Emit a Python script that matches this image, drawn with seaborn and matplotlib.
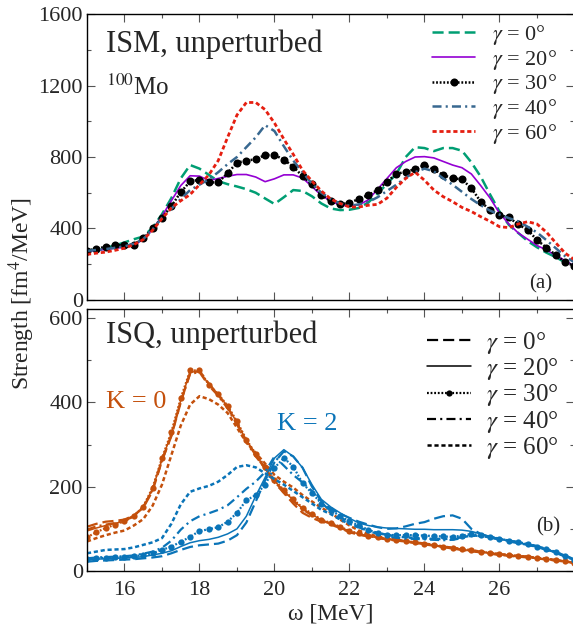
import matplotlib
matplotlib.use("Agg")
import matplotlib.pyplot as plt
from matplotlib.lines import Line2D
from matplotlib.ticker import MultipleLocator
import seaborn as sns

# excitation energy grid (MeV)
energy = [15.0, 15.25, 15.5, 15.75, 16.0, 16.25, 16.5, 16.75, 17.0, 17.25, 17.5, 17.75,
          18.0, 18.25, 18.5, 18.75, 19.0, 19.25, 19.5, 19.75, 20.0, 20.25, 20.5, 20.75,
          21.0, 21.25, 21.5, 21.75, 22.0, 22.25, 22.5, 22.75, 23.0, 23.25, 23.5, 23.75,
          24.0, 24.25, 24.5, 24.75, 25.0, 25.25, 25.5, 25.75, 26.0, 26.25, 26.5, 26.75,
          27.0, 27.25, 27.5, 27.75, 28.0]

gammas = ["0", "20", "30", "40", "60"]
x_major = [16, 18, 20, 22, 24, 26]
x_minor = [15, 17, 19, 21, 23, 25, 27]

# ISM strength, panel (a)
ism_g0 = [275, 283, 292, 305, 322, 340, 355, 405, 480, 570, 680, 755,
          735, 700, 665, 648, 635, 620, 600, 568, 537, 575, 615, 610,
          580, 540, 512, 503, 505, 515, 545, 595, 650, 705, 800, 855,
          850, 833, 850, 850, 835, 770, 690, 590, 495, 420, 375, 330,
          295, 265, 240, 210, 185]
ism_g20 = [272, 278, 283, 290, 295, 305, 340, 395, 470, 555, 640, 695,
           693, 668, 680, 692, 702, 702, 688, 662, 678, 700, 700, 682,
           635, 585, 555, 530, 527, 532, 560, 620, 680, 740, 775, 800,
           802, 795, 775, 755, 740, 705, 640, 570, 486, 425, 375, 340,
           305, 280, 250, 220, 190]
ism_g30 = [275, 288, 297, 305, 308, 310, 345, 400, 460, 525, 603, 663,
           673, 658, 658, 710, 768, 780, 787, 811, 811, 786, 745, 693,
           647, 588, 552, 535, 544, 565, 587, 615, 662, 705, 718, 731,
           755, 731, 699, 681, 675, 625, 550, 503, 475, 462, 423, 392,
           336, 293, 252, 212, 190]
ism_g40 = [275, 280, 285, 292, 300, 315, 340, 395, 460, 510, 565, 615,
           645, 675, 715, 760, 800, 855, 910, 978, 945, 860, 780, 715,
           650, 600, 565, 540, 527, 535, 548, 575, 610, 645, 685, 715,
           735, 720, 680, 645, 605, 565, 530, 500, 478, 458, 440, 410,
           378, 335, 290, 245, 210]
ism_g60 = [255, 262, 268, 278, 290, 310, 338, 390, 455, 515, 555, 590,
           645, 700, 780, 910, 1035, 1105, 1105, 1065, 990, 900, 815, 725,
           665, 610, 565, 540, 520, 520, 530, 535, 570, 630, 680, 715,
           670, 615, 578, 550, 518, 495, 466, 440, 410, 405, 425, 438,
           425, 380, 320, 262, 225]

# ISQ strength, panel (b), K = 0
k0_g0 = [105, 112, 117, 119, 122, 132, 150, 190, 262, 320, 400, 470,
         475, 445, 418, 388, 350, 308, 275, 242, 210, 185, 160, 138,
         126, 117, 110, 102, 92, 86, 82, 78, 75, 72, 70, 66,
         63, 60, 57, 53, 50, 47, 44, 41, 38, 36, 34, 32,
         30, 27, 25, 22, 19]
k0_g20 = [95, 102, 108, 113, 118, 130, 152, 195, 265, 325, 405, 472,
          474, 443, 420, 390, 352, 310, 276, 245, 214, 190, 168, 148,
          134, 121, 113, 104, 94, 88, 83, 79, 76, 73, 71, 67,
          64, 61, 58, 54, 51, 48, 45, 42, 39, 37, 35, 33,
          31, 28, 26, 23, 20]
k0_g30 = [80, 92, 102, 110, 118, 130, 153, 198, 268, 330, 410, 476,
          476, 442, 420, 392, 355, 312, 278, 248, 216, 192, 170, 150,
          136, 122, 114, 105, 95, 89, 84, 80, 77, 74, 71, 68,
          65, 62, 58, 55, 52, 49, 46, 43, 40, 38, 36, 34,
          31, 29, 26, 23, 20]
k0_g40 = [98, 106, 110, 114, 120, 131, 152, 193, 262, 322, 402, 468,
          472, 440, 416, 386, 348, 306, 272, 244, 212, 188, 166, 146,
          132, 120, 112, 103, 93, 87, 83, 79, 76, 73, 70, 67,
          64, 61, 57, 54, 51, 48, 45, 42, 39, 37, 35, 33,
          30, 28, 25, 22, 19]
k0_g60 = [70, 78, 85, 91, 96, 108, 123, 155, 205, 275, 345, 395,
          415, 408, 395, 375, 340, 305, 280, 255, 228, 212, 198, 180,
          165, 150, 138, 122, 108, 96, 88, 82, 78, 74, 71, 68,
          65, 62, 58, 55, 52, 49, 46, 43, 40, 38, 36, 34,
          31, 29, 26, 23, 20]

# ISQ strength, panel (b), K = 2
k2_g0 = [22, 24, 25, 26, 27, 28, 30, 32, 35, 42, 50, 57,
         61, 63, 65, 72, 85, 115, 165, 215, 258, 284, 272, 245,
         200, 165, 148, 136, 126, 117, 110, 104, 100, 101, 106, 112,
         116, 124, 130, 132, 124, 100, 88, 80, 74, 70, 66, 62,
         57, 50, 43, 34, 26]
k2_g20 = [26, 28, 29, 30, 31, 32, 34, 38, 42, 48, 58, 67,
          72, 75, 80, 88, 100, 130, 178, 222, 268, 288, 272, 245,
          205, 170, 152, 138, 125, 114, 108, 104, 102, 101, 100, 99,
          99, 98, 98, 98, 97, 94, 88, 82, 76, 71, 67, 63,
          58, 51, 44, 35, 27]
k2_g30 = [28, 30, 31, 32, 33, 35, 38, 42, 50, 58, 69, 81,
          95, 99, 104, 117, 138, 168, 180, 205, 245, 268, 248, 208,
          185, 160, 145, 130, 118, 108, 98, 90, 86, 85, 85, 85,
          84, 83, 82, 81, 84, 88, 85, 81, 77, 72, 68, 64,
          58, 52, 45, 36, 27]
k2_g40 = [30, 32, 33, 34, 35, 37, 41, 46, 55, 72, 98, 118,
          130, 137, 145, 156, 175, 195, 212, 235, 272, 250, 228, 210,
          190, 162, 142, 128, 115, 104, 95, 88, 82, 79, 77, 76,
          75, 74, 73, 74, 78, 84, 83, 80, 76, 72, 68, 63,
          58, 51, 44, 36, 28]
k2_g60 = [42, 46, 50, 51, 52, 56, 62, 68, 78, 112, 158, 188,
          196, 202, 212, 228, 247, 251, 246, 232, 218, 205, 190, 175,
          160, 145, 135, 122, 112, 103, 96, 90, 86, 82, 80, 78,
          77, 76, 76, 77, 80, 84, 83, 80, 76, 72, 68, 64,
          59, 52, 45, 36, 28]

sns.set_theme(style="ticks")
plt.rcParams["font.family"] = ["Liberation Serif", "DejaVu Serif"]
plt.rcParams["mathtext.fontset"] = "stix"
plt.rcParams["lines.scale_dashes"] = False

# line styles (dash patterns in points)
ls_dash = (0, (8, 3.6))
ls_solid = "-"
ls_dot = (0, (1.3, 1.3))
ls_dashdot = (0, (6.5, 3, 1.5, 3))
ls_short = (0, (3, 2))

fig = plt.figure(figsize=(5.73, 6.28), dpi=100)
ax1 = fig.add_axes([0.1518, 0.5223, 0.8508, 0.4554])
ax2 = fig.add_axes([0.1518, 0.0908, 0.8508, 0.4172])

# ---- panel (a) ----
top_series = [
    (ism_g0, "#009e73", ls_dash, 1.8, None),
    (ism_g20, "#9400d3", ls_solid, 1.2, None),
    (ism_g30, "black", ls_dot, 1.8, "o"),
    (ism_g40, "#386890", ls_dashdot, 1.8, None),
    (ism_g60, "#e51e10", ls_short, 2.0, None),
]
for (vals, col, ls, lw, mk), g in zip(top_series, gammas):
    sns.lineplot(x=energy, y=vals, ax=ax1, color=col, linestyle=ls, lw=lw,
                 marker=mk, markersize=5.8, markeredgewidth=0,
                 label=r"$\gamma$ = " + g + "°")

ax1.set_xlim(15, 28)
ax1.set_ylim(0, 1600)
ax1.yaxis.set_major_locator(MultipleLocator(400))
ax1.yaxis.set_minor_locator(MultipleLocator(200))
ax1.set_xticks(x_major)
ax1.set_xticks(x_minor, minor=True)
ax1.set_xticklabels([])
ax1.legend(loc="upper left", bbox_to_anchor=(0.708, 0.968), frameon=False,
           fontsize=16, handlelength=1.95, handletextpad=0.75,
           labelspacing=0.03, borderpad=0, borderaxespad=0)
ax1.text(0.04, 0.895, "ISM, unperturbed", transform=ax1.transAxes,
         fontsize=22, va="center", ha="left")
ax1.text(0.04, 0.745, r"$^{100}$Mo", transform=ax1.transAxes,
         fontsize=18, va="center", ha="left")
ax1.text(0.955, 0.055, "(a)", transform=ax1.transAxes,
         fontsize=15, va="center", ha="right")

# ---- panel (b) ----
orange = "#c4500c"
blue = "#0a74b8"
bottom_styles = [(ls_dash, 1.6, None), (ls_solid, 1.1, None), (ls_dot, 1.6, "o"),
                 (ls_dashdot, 1.6, None), (ls_short, 1.8, None)]
for series, col in [([k0_g0, k0_g20, k0_g30, k0_g40, k0_g60], orange),
                    ([k2_g0, k2_g20, k2_g30, k2_g40, k2_g60], blue)]:
    for vals, (ls, lw, mk) in zip(series, bottom_styles):
        sns.lineplot(x=energy, y=vals, ax=ax2, color=col, linestyle=ls, lw=lw,
                     marker=mk, markersize=4.5, markeredgewidth=0)

ax2.set_xlim(15, 28)
ax2.set_ylim(0, 622)
ax2.yaxis.set_major_locator(MultipleLocator(200))
ax2.yaxis.set_minor_locator(MultipleLocator(100))
ax2.set_xticks(x_major)
ax2.set_xticks(x_minor, minor=True)
handles = [Line2D([], [], color="black", linestyle=ls, lw=lw, marker=mk,
                  markersize=4.5, markeredgewidth=0)
           for ls, lw, mk in bottom_styles]
ax2.legend(handles, [r"$\gamma$ = " + g + "°" for g in gammas],
           loc="upper left", bbox_to_anchor=(0.698, 0.92), frameon=False,
           fontsize=18, handlelength=1.75, handletextpad=0.6,
           labelspacing=0.01, borderpad=0, borderaxespad=0)
ax2.text(0.04, 0.9, "ISQ, unperturbed", transform=ax2.transAxes,
         fontsize=22, va="center", ha="left")
ax2.text(0.04, 0.645, "K = 0", transform=ax2.transAxes, color=orange,
         fontsize=19, va="center", ha="left")
ax2.text(0.389, 0.56, "K = 2", transform=ax2.transAxes, color=blue,
         fontsize=19, va="center", ha="left")
ax2.text(0.97, 0.17, "(b)", transform=ax2.transAxes,
         fontsize=15, va="center", ha="right")
ax2.set_xlabel("ω [MeV]", fontsize=17, labelpad=3)

for ax in (ax1, ax2):
    ax.set_ylabel("")
    ax.tick_params(which="both", direction="in", top=True, right=True,
                   labelsize=16, width=0.8, color="#555555")
    ax.tick_params(which="major", length=6)
    ax.tick_params(which="minor", length=3)
    ax.tick_params(axis="y", pad=3)
    ax.tick_params(axis="x", pad=7)
    for sp in ax.spines.values():
        sp.set_linewidth(1.0)
        sp.set_color("black")

fig.text(0.038, 0.532, "Strength [fm$^4$/MeV]", rotation=90, fontsize=17,
         va="center", ha="center")

fig.savefig("out.png", dpi=100)
